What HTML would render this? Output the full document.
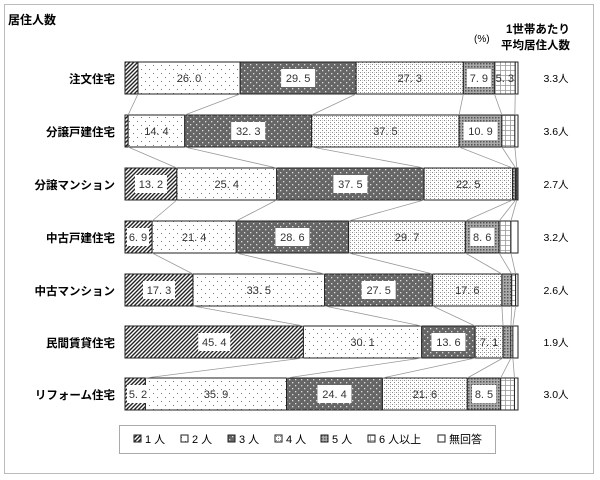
<!DOCTYPE html>
<html><head><meta charset="utf-8">
<style>
html,body{margin:0;padding:0;background:#fff;}
svg{display:block;font-family:"Liberation Sans","Noto Sans CJK JP",sans-serif;}
</style></head>
<body>
<svg id="s" width="600" height="480" xmlns="http://www.w3.org/2000/svg">
<defs>
<pattern id="p0" width="4" height="4" patternUnits="userSpaceOnUse"><rect width="4" height="4" fill="#fff"/><path d="M-1,1 L1,-1 M0,4 L4,0 M3,5 L5,3" stroke="#222" stroke-width="1.4"/></pattern>
<pattern id="p1" width="8" height="8" patternUnits="userSpaceOnUse"><rect width="8" height="8" fill="#fff"/><rect x="1" y="1" width="1" height="1" fill="#777"/><rect x="5" y="5" width="1" height="1" fill="#777"/></pattern>
<pattern id="p2" width="6" height="6" patternUnits="userSpaceOnUse"><rect width="6" height="6" fill="#666"/><rect x="1" y="1" width="1.3" height="1.3" fill="#ddd"/><rect x="4" y="4" width="1.3" height="1.3" fill="#ddd"/></pattern>
<pattern id="p3" width="4" height="4" patternUnits="userSpaceOnUse"><rect width="4" height="4" fill="#fff"/><rect x="0" y="0" width="1" height="1" fill="#888"/><rect x="2" y="2" width="1" height="1" fill="#888"/><rect x="2" y="0" width="1" height="1" fill="#ccc"/></pattern>
<pattern id="p4" width="3" height="3" patternUnits="userSpaceOnUse"><rect width="3" height="3" fill="#aaa"/><rect x="0" y="0" width="1.5" height="1.5" fill="#555"/></pattern>
<pattern id="p5" width="5" height="5" patternUnits="userSpaceOnUse"><rect width="5" height="5" fill="#fff"/><path d="M0,0.5 H5 M0.5,0 V5" stroke="#999" stroke-width="0.8"/></pattern>
</defs>
<rect x="4.5" y="4.5" width="589" height="469" fill="none" stroke="#bbb"/>
<text x="8" y="24" font-size="12" font-weight="bold">居住人数</text>
<text x="474" y="42" font-size="10">(%)</text>
<text x="506" y="33" font-size="11.5" font-weight="bold">1世帯あたり</text>
<text x="501" y="49" font-size="11.5" font-weight="bold">平均居住人数</text>
<g id="g"></g>
<rect x="119.5" y="425.5" width="376" height="28" fill="#fff" stroke="#aaa"/>
<g id="lg" font-size="11"></g>
</svg>
<script>
var rows=[
["注文住宅",[3.3,26.0,29.5,27.3,7.9,5.3,0.7],"3.3人"],
["分譲戸建住宅",[0.8,14.4,32.3,37.5,10.9,3.3,0.8],"3.6人"],
["分譲マンション",[13.2,25.4,37.5,22.5,0.8,0.3,0.3],"2.7人"],
["中古戸建住宅",[6.9,21.4,28.6,29.7,8.6,3.0,1.8],"3.2人"],
["中古マンション",[17.3,33.5,27.5,17.6,2.5,1.0,0.6],"2.6人"],
["民間賃貸住宅",[45.4,30.1,13.6,7.1,2.0,0.5,1.3],"1.9人"],
["リフォーム住宅",[5.2,35.9,24.4,21.6,8.5,3.5,0.9],"3.0人"]];
var X0=125,W=393,H=32,ys=[62,115,168,221,274,326,378];
var h="",t="",bounds=[];
function fmt(v){var s=v.toFixed(1).split(".");return s[0]+". "+s[1];}
rows.forEach(function(r,i){
 var y=ys[i],sum=r[1].reduce(function(a,b){return a+b},0),x=X0,b=[];
 r[1].forEach(function(v,k){
  var w=v/sum*W;
  h+='<rect x="'+x+'" y="'+y+'" width="'+w+'" height="'+H+'" fill="'+(k==6?'#fff':'url(#p'+k+')')+'" stroke="#222" stroke-width="1"/>';
  if(v>=4){var cx=x+w/2;
   if(k==2||k==4){var bw=v>=10?34:24;t+='<rect x="'+(cx-bw/2)+'" y="'+(y+7)+'" width="'+bw+'" height="18" fill="#fff"/>';}
   if(k==0&&v<8){t+='<rect x="'+(x+2)+'" y="'+(y+7)+'" width="22" height="18" fill="#fff"/>';cx=x+13;}
   else if(k==0){t+='<rect x="'+(cx-16)+'" y="'+(y+7)+'" width="32" height="18" fill="#fff"/>';}
   t+='<text x="'+cx+'" y="'+(y+20)+'" font-size="11" text-anchor="middle" fill="#333">'+fmt(v)+'</text>';}
  x+=w;b.push(x);
 });
 bounds.push(b);
 t+='<text x="115" y="'+(y+21)+'" font-size="11.5" font-weight="bold" text-anchor="end">'+r[0]+'</text>';
 t+='<text x="556" y="'+(y+20)+'" font-size="10.5" text-anchor="middle">'+r[2]+'</text>';
});
for(var i=0;i<6;i++){bounds[i].slice(0,6).forEach(function(bx,k){var b2=bounds[i+1][k];
 h+='<line x1="'+bx+'" y1="'+(ys[i]+H)+'" x2="'+b2+'" y2="'+ys[i+1]+'" stroke="#999" stroke-width="0.8"/>';});}
document.getElementById("g").innerHTML=h+t;
var L=["1 人","2 人","3 人","4 人","5 人","6 人以上","無回答"],lx=[134,181,228,275,321,368,438],lh="";
L.forEach(function(s,k){lh+='<rect x="'+lx[k]+'" y="435" width="7" height="7" fill="'+(k==6?"#fff":"url(#p"+k+")")+'" stroke="#222"/><text x="'+(lx[k]+11)+'" y="443" font-size="11">'+s+'</text>';});
document.getElementById("lg").innerHTML=lh;
</script>
</body></html>
